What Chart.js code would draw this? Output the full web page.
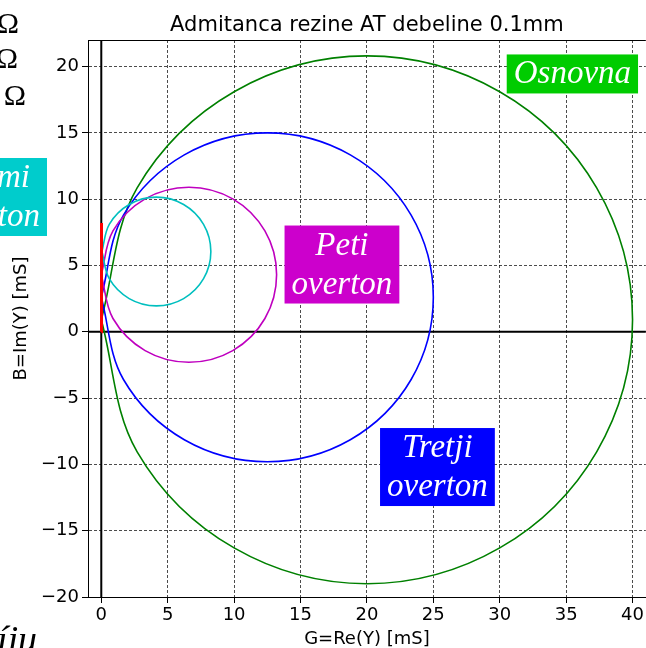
<!DOCTYPE html>
<html lang="sl">
<head>
  <meta charset="UTF-8">
  <title>Admitanca rezine AT</title>
  <script src="https://cdn.jsdelivr.net/npm/chart.js@4"></script>
  <style>
    body { margin: 0; background: #fff; }
    #wrap { width: 646px; height: 648px; }
  </style>
</head>
<body>
  <div id="wrap"><canvas id="admChart" width="646" height="648"></canvas></div>

  <script>
    // G = Re(Y), B = Im(Y) in mS
    const osnG = [0, 2.7, 10, 20, 30, 37.3, 40, 37.3, 30, 20, 10, 2.7, 0];
    const osnB = [0.9, -9.05, -16.3, -19.0, -16.3, -9.05, 0.9, 10.85, 18.1, 20.8, 18.1, 10.85, 0.9];

    const treG = [0, 1.67, 6.25, 12.5, 18.75, 23.33, 25, 23.33, 18.75, 12.5, 6.25, 1.67, 0];
    const treB = [2.6, -3.6, -8.14, -9.8, -8.14, -3.6, 2.6, 8.8, 13.34, 15.0, 13.34, 8.8, 2.6];

    const petG = [0, 0.88, 3.3, 6.6, 9.9, 12.32, 13.2, 12.32, 9.9, 6.6, 3.3, 0.88, 0];
    const petB = [4.3, 1.0, -1.42, -2.3, -1.42, 1.0, 4.3, 7.6, 10.02, 10.9, 10.02, 7.6, 4.3];

    const sedG = [0.05, 0.6, 2.1, 4.15, 6.2, 7.7, 8.25, 7.7, 6.2, 4.15, 2.1, 0.6, 0.05];
    const sedB = [6.05, 4.0, 2.5, 1.95, 2.5, 4.0, 6.05, 8.1, 9.6, 10.15, 9.6, 8.1, 6.05];

    const devG = [0, 0.03, 0];
    const devB = [0, 4.1, 8.2];

    const xTicks = [0, 5, 10, 15, 20, 25, 30, 35, 40];
    const yTicks = [-20, -15, -10, -5, 0, 5, 10, 15, 20];

    const pts = (g, b) => g.map((v, i) => ({ x: v, y: b[i] }));

    function curve(g, b, color, tension) {
      return {
        data: pts(g, b),
        borderColor: color,
        borderWidth: 1.6,
        pointRadius: 0,
        showLine: true,
        fill: false,
        tension: tension
      };
    }

    // red first so it's on top (chart.js draws dataset 0 last)
    const datasets = [
      Object.assign(curve(devG, devB, "#ff0000", 0), { borderWidth: 3 }),
      curve(sedG, sedB, "#00bfbf", 0.35),
      curve(petG, petB, "#bf00bf", 0.35),
      curve(treG, treB, "#0000ff", 0.35),
      curve(osnG, osnB, "#008000", 0.35)
    ];

    function labelBox(ctx, lines, cx, cy, bg) {
      ctx.save();
      ctx.font = 'italic 33px "Liberation Serif"';
      const w = Math.max(...lines.map(l => ctx.measureText(l).width)) + 14;
      const h = 39 * lines.length;
      const top = cy - h / 2;
      ctx.fillStyle = bg;
      ctx.fillRect(cx - w / 2, top, w, h);
      ctx.fillStyle = "#fff";
      ctx.textAlign = "center";
      ctx.textBaseline = "alphabetic";
      lines.forEach((l, i) => ctx.fillText(l, cx, top + 29 + i * 39));
      ctx.restore();
      return w;
    }

    const extras = {
      id: "extras",
      beforeDatasetsDraw(chart) {
        const { ctx, chartArea: a, scales: { x, y } } = chart;
        const x0 = x.getPixelForValue(0), y0 = y.getPixelForValue(0);
        ctx.save();
        ctx.strokeStyle = "#000";
        ctx.lineWidth = 2;
        ctx.beginPath();
        ctx.moveTo(x0, a.top); ctx.lineTo(x0, a.bottom);
        ctx.moveTo(a.left, y0); ctx.lineTo(a.right, y0);
        ctx.stroke();
        ctx.restore();
      },
      afterDraw(chart) {
        const { ctx, chartArea: a, scales: { x, y } } = chart;
        ctx.save();
        // top spine
        ctx.strokeStyle = "#000";
        ctx.lineWidth = 1;
        ctx.beginPath();
        ctx.moveTo(a.left, Math.round(a.top) + 0.5);
        ctx.lineTo(a.right, Math.round(a.top) + 0.5);
        ctx.stroke();

        // title
        ctx.fillStyle = "#000";
        ctx.font = '21px "DejaVu Sans"';
        ctx.textAlign = "center";
        ctx.textBaseline = "alphabetic";
        ctx.fillText("Admitanca rezine AT debeline 0.1mm", (a.left + a.right) / 2, 31);

        // pieces of neighbouring annotations cut by the figure edge
        ctx.font = '30px "Liberation Serif"';
        ctx.textAlign = "right";
        ctx.fillText("\u03A9", 19, 33);
        ctx.fillText("\u03A9", 18, 68);
        ctx.fillText("0 \u03A9", 26, 105);
        ctx.font = 'italic 38px "Liberation Serif"';
        ctx.textAlign = "left";
        ctx.fillText("\u00EDju", -3, 652);
        ctx.restore();

        labelBox(ctx, ["Osnovna"], x.getPixelForValue(35.47), y.getPixelForValue(19.44), "#00cc00");
        labelBox(ctx, ["Peti", "overton"], x.getPixelForValue(18.12), y.getPixelForValue(5.07), "#cc00cc");
        labelBox(ctx, ["Tretji", "overton"], x.getPixelForValue(25.31), y.getPixelForValue(-10.2), "#0000ff");

        ctx.save();
        ctx.font = 'italic 33px "Liberation Serif"';
        const sw = ctx.measureText("overton").width + 14;
        ctx.restore();
        labelBox(ctx, ["Sedmi", "overton"], 47 - sw / 2, 158 + 39, "#00cccc");
      }
    };

    const tickFont = { family: "DejaVu Sans", size: 18 };
    const gridStyle = {
      color: "rgba(0,0,0,0.7)",
      lineWidth: 1,
      tickColor: "#000",
      tickLength: 6,
      tickBorderDash: []
    };
    const minus = v => (v < 0 ? "\u2212" + Math.abs(v) : String(v));

    new Chart(document.getElementById("admChart"), {
      type: "scatter",
      data: { datasets: datasets },
      options: {
        responsive: false,
        animation: false,
        events: [],
        layout: { padding: { top: 40, left: 0, right: 0, bottom: 0 }, autoPadding: false },
        plugins: { legend: { display: false }, tooltip: { enabled: false } },
        scales: {
          x: {
            type: "linear",
            min: -1,
            max: 41,
            afterBuildTicks: s => { s.ticks = xTicks.map(v => ({ value: v })); },
            afterFit: s => { s.height = 51; },
            grid: gridStyle,
            border: { display: true, color: "#000", width: 1, dash: [3, 2] },
            ticks: { font: tickFont, color: "#000", padding: 2, maxRotation: 0, callback: minus },
            title: {
              display: true,
              text: "G=Re(Y) [mS]",
              color: "#000",
              font: { family: "DejaVu Sans", size: 18, lineHeight: 1 },
              padding: { top: 0, bottom: 0 }
            }
          },
          y: {
            type: "linear",
            min: -20,
            max: 22,
            afterBuildTicks: s => { s.ticks = yTicks.map(v => ({ value: v })); },
            afterFit: s => { s.width = 88; },
            grid: gridStyle,
            border: { display: true, color: "#000", width: 1, dash: [3, 2] },
            ticks: { font: tickFont, color: "#000", padding: 3, callback: minus },
            title: {
              display: true,
              text: "B=Im(Y) [mS]",
              color: "#000",
              font: { family: "DejaVu Sans", size: 18, lineHeight: 1 },
              padding: { top: 12, bottom: 0 }
            }
          }
        }
      },
      plugins: [extras]
    });
  </script>
</body>
</html>
